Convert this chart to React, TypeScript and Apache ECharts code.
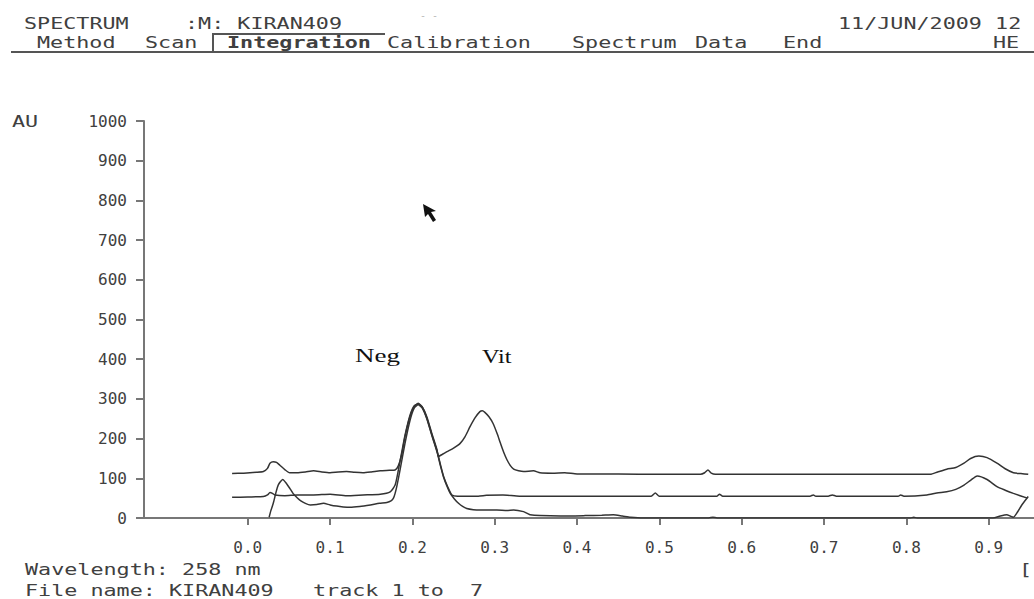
import React, { useEffect, useRef } from "react";
import * as echarts from "echarts";

// ---- data (x = migration value, y = AU) ----
const topTrack: [number, number][] = [
  [-0.019, 112], [-0.005, 113], [0.01, 115], [0.019, 117], [0.024, 125], [0.027, 138], [0.031, 142],
  [0.035, 140], [0.039, 133], [0.045, 122], [0.051, 114], [0.06, 114], [0.07, 116], [0.08, 119],
  [0.09, 116], [0.1, 114], [0.11, 116], [0.12, 117], [0.13, 115], [0.14, 114], [0.15, 116],
  [0.161, 119], [0.172, 120], [0.179, 121], [0.183, 132], [0.187, 160], [0.191, 205], [0.197, 255],
  [0.202, 280], [0.207, 289], [0.212, 280], [0.2175, 255], [0.2236, 213], [0.23, 171], [0.2316, 155],
  [0.236, 160], [0.242, 167], [0.25, 176], [0.258, 188], [0.264, 205], [0.27, 230], [0.276, 252],
  [0.282, 268], [0.285, 270], [0.288, 266], [0.293, 255], [0.298, 238], [0.303, 212], [0.307, 188],
  [0.311, 165], [0.315, 146], [0.319, 132], [0.323, 123], [0.329, 119], [0.335, 117], [0.347, 119],
  [0.355, 114], [0.37, 113], [0.385, 114], [0.4, 111], [0.45, 111], [0.5, 110], [0.55, 110],
  [0.555, 114], [0.559, 121], [0.563, 113], [0.568, 110], [0.65, 110], [0.75, 110], [0.829, 110],
  [0.838, 116], [0.849, 123], [0.86, 127], [0.87, 138], [0.878, 150], [0.888, 156], [0.898, 152],
  [0.91, 138], [0.92, 124], [0.93, 114], [0.939, 112], [0.948, 110],
];

const midTrack: [number, number][] = [
  [-0.019, 52], [0.0, 53], [0.019, 54], [0.024, 58], [0.027, 64], [0.03, 62], [0.033, 58], [0.045, 56],
  [0.06, 58], [0.08, 58], [0.1, 60], [0.12, 56], [0.14, 58], [0.161, 60], [0.173, 66], [0.179, 83],
  [0.183, 121], [0.187, 165], [0.191, 208], [0.197, 258], [0.202, 282], [0.207, 287], [0.212, 279],
  [0.2175, 252], [0.2236, 210], [0.23, 168], [0.234, 135], [0.238, 104], [0.243, 78], [0.248, 58],
  [0.255, 55], [0.266, 55], [0.28, 55], [0.29, 57], [0.31, 58], [0.33, 55], [0.36, 55], [0.4, 55],
  [0.45, 55], [0.49, 55], [0.495, 63], [0.5, 55], [0.57, 55], [0.573, 60], [0.577, 55], [0.683, 55],
  [0.687, 58], [0.69, 55], [0.705, 55], [0.71, 58], [0.715, 55], [0.79, 55], [0.793, 58], [0.797, 55],
  [0.825, 58], [0.837, 63], [0.849, 66], [0.86, 72], [0.87, 83], [0.878, 95], [0.886, 106],
  [0.898, 97], [0.91, 79], [0.92, 70], [0.93, 62], [0.947, 50],
];

const baseTrack: [number, number][] = [
  [0.026, 2], [0.028, 18], [0.031, 37], [0.034, 62], [0.037, 83], [0.0425, 97], [0.047, 87],
  [0.051, 75], [0.055, 62], [0.06, 51], [0.064, 44], [0.07, 37], [0.076, 33], [0.084, 34], [0.092, 37],
  [0.1, 33], [0.108, 30], [0.116, 28], [0.124, 27], [0.136, 29], [0.149, 33], [0.16, 37], [0.169, 39],
  [0.174, 43], [0.177, 50], [0.179, 62], [0.181, 79], [0.185, 121], [0.191, 188], [0.197, 245],
  [0.202, 276], [0.207, 285], [0.212, 277], [0.2175, 250], [0.2236, 208], [0.23, 166], [0.234, 132],
  [0.238, 102], [0.242, 80], [0.246, 62], [0.251, 48], [0.256, 37], [0.261, 29], [0.266, 24],
  [0.274, 21], [0.282, 20], [0.3025, 20], [0.315, 19], [0.323, 20], [0.335, 16], [0.34, 11],
  [0.343, 8], [0.355, 6], [0.38, 5], [0.41, 6], [0.43, 7], [0.444, 8], [0.455, 5], [0.465, 2],
  [0.48, 0], [0.56, 0], [0.565, 2], [0.57, 0], [0.805, 0], [0.809, 2], [0.813, 0], [0.905, 0],
  [0.914, 5], [0.922, 8], [0.926, 5], [0.93, 2], [0.935, 15], [0.94, 32], [0.948, 54],
];

const xTickValues = [0, 0.1, 0.2, 0.3, 0.4, 0.5, 0.6, 0.7, 0.8, 0.9];
const yMin = 0;
const yMax = 1000;
const yStep = 100;
const xMin = -0.126;
const xMax = 0.955;

const headerLine1 = ["SPECTRUM", ":M: KIRAN409", "11/JUN/2009 12"];
const menuItems = ["Method", "Scan", "Integration", "Calibration", "Spectrum", "Data", "End", "HE"];
const footerTexts = ["Wavelength: 258 nm", "File name: KIRAN409", "track 1 to  7", "["];
const peakLabels = ["Neg", "Vit"];
const yUnit = "AU";

const MONO = '"DejaVu Sans Mono", "Liberation Mono", monospace';
const SERIF = '"Liberation Serif", "DejaVu Serif", serif';
const TXT = "#404040";

function mono(text: string, x: number, y: number, bold = false) {
  return {
    type: "text",
    x,
    y,
    scaleX: 1.45,
    silent: true,
    style: {
      text,
      fill: TXT,
      fontFamily: MONO,
      fontSize: 15,
      fontWeight: bold ? "bold" : "normal",
      verticalAlign: "middle",
      align: "left",
    },
  };
}

function serif(text: string, x: number, y: number, sx: number) {
  return {
    type: "text",
    x,
    y,
    scaleX: sx,
    silent: true,
    style: {
      text,
      fill: "#111",
      fontFamily: SERIF,
      fontSize: 18,
      verticalAlign: "middle",
      align: "left",
    },
  };
}

export default function App() {
  const ref = useRef<HTMLDivElement>(null);

  useEffect(() => {
    if (!ref.current) return;
    const chart = echarts.init(ref.current, null, { renderer: "svg" });
    const lineStyle = { color: "#333", width: 1.5 };
    const mkSeries = (name: string, data: [number, number][]) => ({
      name,
      type: "line",
      data,
      showSymbol: false,
      smooth: 0.2,
      lineStyle,
      silent: true,
    });

    const menuX = [37, 145, 227, 387, 572, 695, 783, 993];

    chart.setOption({
      animation: false,
      backgroundColor: "#ffffff",
      grid: {
        left: 144,
        top: 121,
        right: 0,
        bottom: 81,
        containLabel: false,
        outerBoundsMode: "none",
      },
      xAxis: {
        type: "value",
        min: xMin,
        max: xMax,
        axisLine: { show: true, onZero: false, lineStyle: { color: "#777", width: 2 } },
        axisTick: {
          show: true,
          length: 7,
          customValues: xTickValues,
          lineStyle: { color: "#777", width: 2 },
        },
        axisLabel: {
          show: true,
          customValues: xTickValues,
          formatter: (v: number) => v.toFixed(1),
          margin: 21,
          color: TXT,
          fontFamily: MONO,
          fontSize: 16,
        },
        splitLine: { show: false },
      },
      yAxis: {
        type: "value",
        min: yMin,
        max: yMax,
        interval: yStep,
        axisLine: { show: true, onZero: false, lineStyle: { color: "#777", width: 2 } },
        axisTick: { show: true, length: 8, lineStyle: { color: "#777", width: 2 } },
        axisLabel: {
          margin: 17,
          color: TXT,
          fontFamily: MONO,
          fontSize: 16,
          formatter: (v: number) => String(Math.round(v)),
        },
        splitLine: { show: false },
      },
      series: [
        mkSeries("track A", topTrack),
        mkSeries("track B", midTrack),
        mkSeries("track C", baseTrack),
      ],
      graphic: [
        mono(headerLine1[0], 24, 24),
        mono(headerLine1[1], 185, 24),
        { type: "text", x: 420, y: 15, silent: true, style: { text: "- -", fill: "#bbb", fontFamily: MONO, fontSize: 10, verticalAlign: "middle" } },
        mono(headerLine1[2], 838, 24),
        ...menuItems.map((m, i) => mono(m, menuX[i], 43, m === "Integration")),
        {
          type: "line",
          silent: true,
          shape: { x1: 11, y1: 52, x2: 1034, y2: 52 },
          style: { stroke: "#555", lineWidth: 2 },
        },
        {
          type: "polyline",
          silent: true,
          shape: { points: [[213, 52], [213, 34], [385, 34]] },
          style: { stroke: "#555", lineWidth: 2, fill: null },
        },
        mono(yUnit, 12, 122),
        serif(peakLabels[0], 355, 356, 1.5),
        serif(peakLabels[1], 482, 357, 1.35),
        {
          type: "polygon",
          silent: true,
          shape: {
            points: [[423, 204], [425, 217], [428, 214], [433, 222], [436, 220], [431, 212], [436, 211]],
          },
          style: { fill: "#111" },
        },
        mono(footerTexts[0], 25, 570),
        mono(footerTexts[1], 25, 591),
        mono(footerTexts[2], 313, 591),
        mono(footerTexts[3], 1019, 570),
      ],
    });
    return () => chart.dispose();
  }, []);

  return (
    <div
      ref={ref}
      style={{ position: "fixed", left: 0, top: 0, width: 1034, height: 599, background: "#fff" }}
    />
  );
}
